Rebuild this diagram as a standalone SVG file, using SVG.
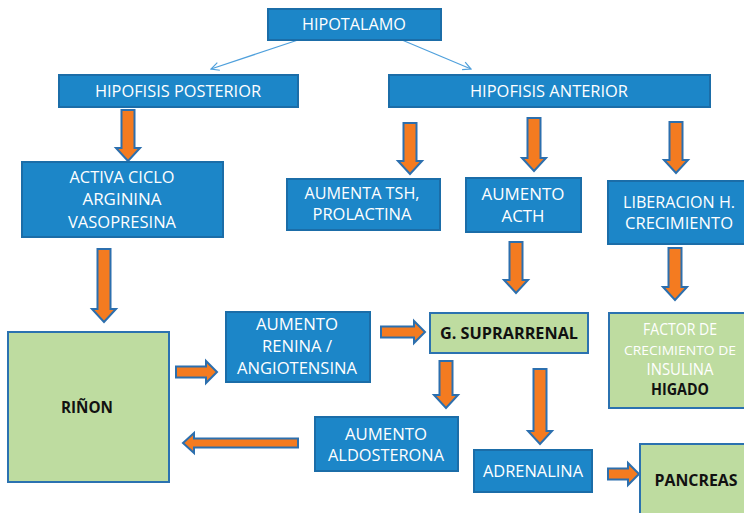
<svg xmlns="http://www.w3.org/2000/svg" width="744" height="513" viewBox="0 0 744 513">
<defs>
<style>
.b{fill:#1C86C8;stroke:#1B6DA8;stroke-width:2}
.g{fill:#BEDCA0;stroke:#2B72B0;stroke-width:2}
.a{fill:#F47B20;stroke:#2C6FAE;stroke-width:2;stroke-linejoin:miter}
.t{font-family:"Open Sans","Liberation Sans",sans-serif;font-size:15.5px;fill:#FFFFFF;text-anchor:middle}
.k{font-family:"Open Sans","Liberation Sans",sans-serif;font-size:15.5px;font-weight:bold;fill:#111111;text-anchor:middle}
.l{stroke:#4FA0DC;stroke-width:1.2;fill:none}
</style>
<marker id="v" viewBox="0 0 10 10" refX="9" refY="5" markerWidth="10" markerHeight="10" markerUnits="userSpaceOnUse" orient="auto">
<path d="M1 1 L9 5 L1 9" fill="none" stroke="#4FA0DC" stroke-width="1.2"/>
</marker>
</defs>
<rect width="744" height="513" fill="#FFFFFF"/>

<g id="connectors">
<line class="l" x1="298" y1="40" x2="211" y2="69" marker-end="url(#v)"/>
<line class="l" x1="402" y1="40" x2="471" y2="69" marker-end="url(#v)"/>
<path class="a" d="M121.5 110 H134.5 V148 H140 L128 161 L116 148 H121.5Z"/>
<path class="a" d="M97.5 249 H110.5 V309 H116 L104 322 L92 309 H97.5Z"/>
<path class="a" d="M403.5 123 H416.5 V161 H422 L410 174 L398 161 H403.5Z"/>
<path class="a" d="M527.5 118 H540.5 V158 H546 L534 171 L522 158 H527.5Z"/>
<path class="a" d="M669.5 122 H682.5 V160 H688 L676 173 L664 160 H669.5Z"/>
<path class="a" d="M509.5 242 H522.5 V280 H528 L516 293 L504 280 H509.5Z"/>
<path class="a" d="M668.5 248 H681.5 V287 H687 L675 300 L663 287 H668.5Z"/>
<path class="a" d="M439.5 361 H452.5 V395 H458 L446 408 L434 395 H439.5Z"/>
<path class="a" d="M533.5 369 H546.5 V431 H552 L540 444 L528 431 H533.5Z"/>
<path class="a" d="M176 366.5 V377.5 H206 V383 L217 372 L206 361 V366.5Z"/>
<path class="a" d="M381 326.5 V337.5 H414 V343 L425 332 L414 321 V326.5Z"/>
<path class="a" d="M608 468.5 V479.5 H628 V485 L639 474 L628 463 V468.5Z"/>
<path class="a" d="M298 438.5 V447.5 H194 V453 L183 443 L194 433 V438.5Z"/>
</g>

<g id="hipotalamo">
<rect class="b" x="268" y="9" width="173" height="31"/>
<text class="t" x="354" y="29.5" textLength="104" lengthAdjust="spacingAndGlyphs">HIPOTALAMO</text>
</g>
<g id="hipofisis-posterior">
<rect class="b" x="59" y="75" width="239" height="32"/>
<text class="t" x="178" y="96.5" textLength="166" lengthAdjust="spacingAndGlyphs">HIPOFISIS POSTERIOR</text>
</g>
<g id="hipofisis-anterior">
<rect class="b" x="389" y="75" width="321" height="32"/>
<text class="t" x="549" y="96.5" textLength="158" lengthAdjust="spacingAndGlyphs">HIPOFISIS ANTERIOR</text>
</g>
<g id="activa-ciclo">
<rect class="b" x="22" y="162" width="201" height="75"/>
<text class="t" x="122" y="182.5" textLength="105" lengthAdjust="spacingAndGlyphs">ACTIVA CICLO</text>
<text class="t" x="122" y="204.5" textLength="79" lengthAdjust="spacingAndGlyphs">ARGININA</text>
<text class="t" x="122" y="227.5" textLength="108" lengthAdjust="spacingAndGlyphs">VASOPRESINA</text>
</g>
<g id="aumenta-tsh">
<rect class="b" x="287" y="179" width="153" height="51"/>
<text class="t" x="362" y="198.5" textLength="115" lengthAdjust="spacingAndGlyphs">AUMENTA TSH,</text>
<text class="t" x="362" y="219.5" textLength="99" lengthAdjust="spacingAndGlyphs">PROLACTINA</text>
</g>
<g id="aumento-acth">
<rect class="b" x="466" y="178" width="115" height="54"/>
<text class="t" x="523" y="199.5" textLength="83" lengthAdjust="spacingAndGlyphs">AUMENTO</text>
<text class="t" x="523" y="221.5" textLength="43" lengthAdjust="spacingAndGlyphs">ACTH</text>
</g>
<g id="liberacion">
<rect class="b" x="608" y="181" width="147" height="63"/>
<text class="t" x="679" y="207.5" textLength="112" lengthAdjust="spacingAndGlyphs">LIBERACION H.</text>
<text class="t" x="679" y="228.5" textLength="108" lengthAdjust="spacingAndGlyphs">CRECIMIENTO</text>
</g>
<g id="aumento-renina">
<rect class="b" x="226" y="312" width="144" height="70"/>
<text class="t" x="297" y="329.5" textLength="82" lengthAdjust="spacingAndGlyphs">AUMENTO</text>
<text class="t" x="297" y="351.5" textLength="70" lengthAdjust="spacingAndGlyphs">RENINA /</text>
<text class="t" x="297" y="373.5" textLength="120" lengthAdjust="spacingAndGlyphs">ANGIOTENSINA</text>
</g>
<g id="suprarrenal">
<rect class="g" x="430" y="313" width="158" height="40"/>
<text class="k" x="509" y="338.5" textLength="138" lengthAdjust="spacingAndGlyphs">G. SUPRARRENAL</text>
</g>
<g id="factor">
<rect class="g" x="609" y="313" width="146" height="95"/>
<text class="t" x="680" y="334.5" textLength="74" lengthAdjust="spacingAndGlyphs">FACTOR DE</text>
<text class="t" x="680" y="354.5" style="font-size:13.5px" textLength="112" lengthAdjust="spacingAndGlyphs">CRECIMIENTO DE</text>
<text class="t" x="680" y="374.5" textLength="67" lengthAdjust="spacingAndGlyphs">INSULINA</text>
<text class="k" x="680" y="394.5" textLength="58" lengthAdjust="spacingAndGlyphs">HIGADO</text>
</g>
<g id="rinon">
<rect class="g" x="8" y="332" width="161" height="150"/>
<text class="k" x="87" y="412.5" textLength="52" lengthAdjust="spacingAndGlyphs">RIÑON</text>
</g>
<g id="aumento-aldosterona">
<rect class="b" x="315" y="417" width="143" height="54"/>
<text class="t" x="386" y="439.5" textLength="82" lengthAdjust="spacingAndGlyphs">AUMENTO</text>
<text class="t" x="386" y="460.5" textLength="116" lengthAdjust="spacingAndGlyphs">ALDOSTERONA</text>
</g>
<g id="adrenalina">
<rect class="b" x="474" y="450" width="118" height="42"/>
<text class="t" x="533" y="476.5" textLength="100" lengthAdjust="spacingAndGlyphs">ADRENALINA</text>
</g>
<g id="pancreas">
<rect class="g" x="640" y="444" width="115" height="76"/>
<text class="k" x="696" y="485.5" textLength="83" lengthAdjust="spacingAndGlyphs">PANCREAS</text>
</g>
</svg>
